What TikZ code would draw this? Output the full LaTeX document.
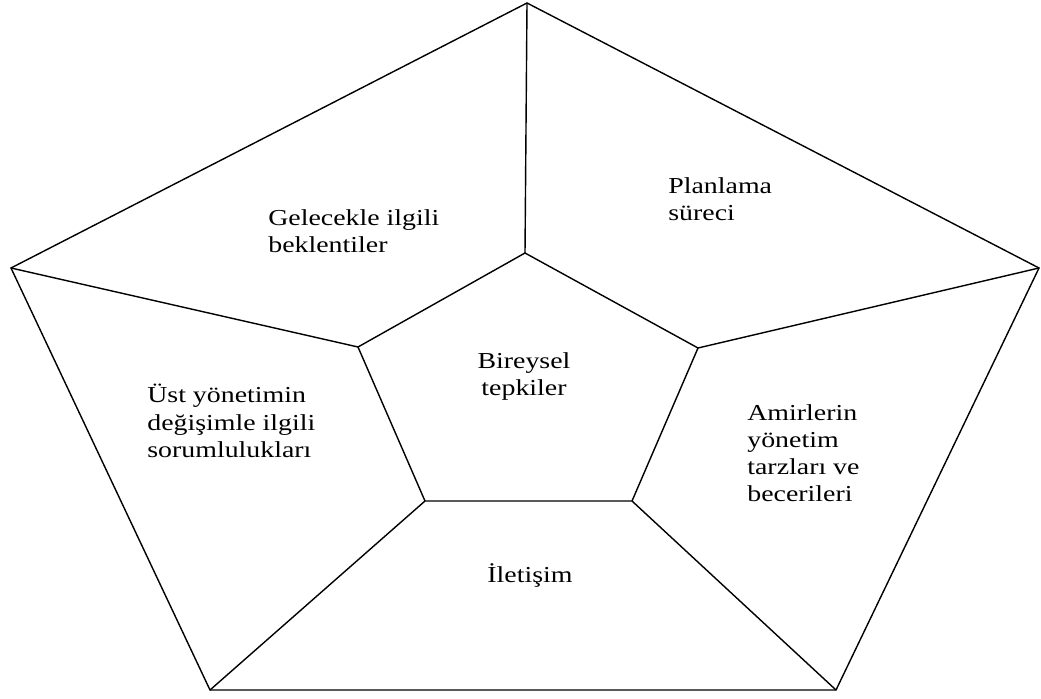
\documentclass[tikz,border=0pt]{standalone}
\usepackage{fontspec}
\setmainfont[FakeStretch=1.22]{Liberation Serif}
\begin{document}
\begin{tikzpicture}[x=0.02cm,y=-0.02cm]
    \tikzstyle{every node} = [font=\fontsize{13}{15.5}\selectfont]
    \tikzstyle{area} = [align=left, anchor=north west, inner sep=0pt]
    \tikzstyle{edge} = [line width=0.8pt, line join=miter]
    \useasboundingbox (0,0) rectangle (1041,699);
    % outer corners
    \coordinate (oTop) at (527,3);
    \coordinate (oRight) at (1039,268);
    \coordinate (oBR) at (836,690);
    \coordinate (oBL) at (210,690);
    \coordinate (oLeft) at (11,268);
    % inner corners
    \coordinate (iTop) at (525,253);
    \coordinate (iRight) at (698,348);
    \coordinate (iBR) at (632,501);
    \coordinate (iBL) at (425,501);
    \coordinate (iLeft) at (358,347);

    % place nodes
    \node[area] (future) at (268,209) {Gelecekle ilgili\\beklentiler};
    \node[area] (planning) at (668,177) {Planlama\\süreci};
    \node[area,align=center,anchor=north] (individual) at (524,352) {Bireysel\\tepkiler};
    \node[area] (topMgmt) at (147,384) {Üst yönetimin\\değişimle ilgili\\sorumlulukları};
    \node[area] (supervisors) at (747,404) {Amirlerin\\yönetim\\tarzları ve\\becerileri};
    \node[anchor=base,inner sep=0pt] (communication) at (530,582) {İletişim};

    % Connections
    \draw[edge] (oTop)--(oRight)--(oBR)--(oBL)--(oLeft)--cycle;
    \draw[edge] (iTop)--(iRight)--(iBR)--(iBL)--(iLeft)--cycle;
    \draw[edge] (oTop)--(iTop);
    \draw[edge] (oRight)--(iRight);
    \draw[edge] (oBR)--(iBR);
    \draw[edge] (oBL)--(iBL);
    \draw[edge] (oLeft)--(iLeft);

\end{tikzpicture}
\end{document}
